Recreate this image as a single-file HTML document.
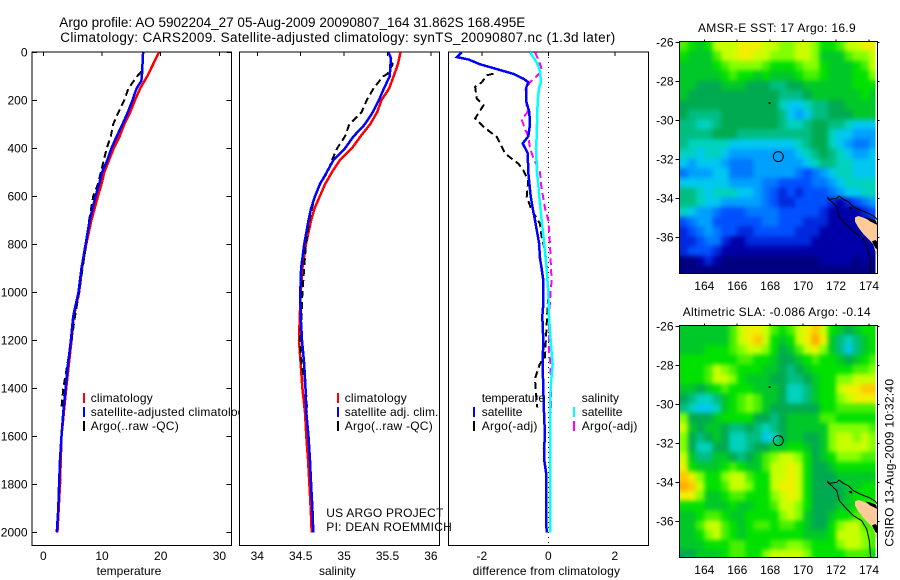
<!DOCTYPE html>
<html lang="en">
<head>
<meta charset="utf-8">
<title>Argo profile 5902204_27</title>
<style>
html,body{margin:0;padding:0;background:#fff;}
svg{display:block;}
text{font-family:"Liberation Sans",sans-serif;font-size:12px;fill:#000;}
</style>
</head>
<body>
<svg id="chart" width="900" height="580" viewBox="0 0 900 580" xmlns="http://www.w3.org/2000/svg">
  <text x="59.3" y="27" style="font-size:13.5px" textLength="466" lengthAdjust="spacing">Argo profile: AO 5902204_27 05-Aug-2009 20090807_164 31.862S 168.495E</text>
  <text x="60.3" y="42" style="font-size:13.5px" textLength="555" lengthAdjust="spacing">Climatology: CARS2009. Satellite-adjusted climatology: synTS_20090807.nc (1.3d later)</text>

  <g id="panel-temp">
    <rect x="32" y="52" width="199.5" height="493.5" fill="#fff" stroke="#000" shape-rendering="crispEdges"/>
    <g id="marks-temp"></g>
    <g>
      <rect x="83" y="393" width="2" height="10" fill="#f00"/>
      <rect x="83" y="407" width="2" height="10" fill="#00f"/>
      <rect x="83" y="421" width="2" height="10" fill="#000"/>
      <text x="90.7" y="402" textLength="62">climatology</text>
      <text x="90.7" y="416" textLength="160">satellite-adjusted climatology</text>
      <text x="90.7" y="430" textLength="88">Argo(..raw -QC)</text>
    </g>
    <text x="129" y="575" text-anchor="middle">temperature</text>
  </g>

  <g id="panel-sal">
    <rect x="239.3" y="52" width="200.4" height="493.5" fill="#fff" stroke="#000" shape-rendering="crispEdges"/>
    <g id="marks-sal"></g>
    <g>
      <rect x="337" y="393" width="2" height="10" fill="#f00"/>
      <rect x="337" y="407" width="2" height="10" fill="#00f"/>
      <rect x="337" y="421" width="2" height="10" fill="#000"/>
      <text x="344.7" y="402" textLength="62">climatology</text>
      <text x="344.7" y="416" textLength="93.7">satellite adj. clim.</text>
      <text x="344.7" y="430" textLength="88">Argo(..raw -QC)</text>
    </g>
    <text x="337.3" y="575" text-anchor="middle">salinity</text>
  </g>

  <g id="panel-diff">
    <rect x="448.3" y="52" width="200" height="493.5" fill="#fff" stroke="#000" shape-rendering="crispEdges"/>
    <g id="marks-diff"></g>
    <g>
      <text x="481.7" y="402" textLength="63.3">temperature</text>
      <rect x="473" y="407" width="2" height="10" fill="#00f"/>
      <rect x="473" y="421" width="2" height="10" fill="#000"/>
      <text x="481.7" y="416" textLength="40.7">satellite</text>
      <text x="481.7" y="430" textLength="55.7">Argo(-adj)</text>
      <text x="581.7" y="402" textLength="37.3">salinity</text>
      <rect x="573" y="407" width="2" height="10" fill="#0ff"/>
      <rect x="573" y="421" width="2" height="10" fill="#f0f"/>
      <text x="581.7" y="416" textLength="40.7">satellite</text>
      <text x="581.7" y="430" textLength="55.7">Argo(-adj)</text>
    </g>
    <text x="546.3" y="575" text-anchor="middle" textLength="147.3">difference from climatology</text>
  </g>

  <text x="326.3" y="517" textLength="117">US ARGO PROJECT</text>
  <text x="326.3" y="531" textLength="125.5">PI: DEAN ROEMMICH</text>

  <g id="map-sst"></g>
  <text x="776.8" y="32" text-anchor="middle" textLength="157.7">AMSR-E SST: 17 Argo: 16.9</text>

  <g id="map-sla"></g>
  <text x="776.7" y="316" text-anchor="middle" textLength="188">Altimetric SLA: -0.086 Argo: -0.14</text>

  <text transform="translate(893.5,462.8) rotate(-90)" text-anchor="middle" textLength="167.7">CSIRO 13-Aug-2009 10:32:40</text>
</svg>

<script>
/* ---------- profile data ---------- */
const tempTicks = [0, 10, 20, 30];
const salTicks = [34, 34.5, 35, 35.5, 36];
const salTickLabels = ['34', '34.5', '35', '35.5', '36'];
const diffTicks = [-2, 0, 2];
const depthTicks = [0, 200, 400, 600, 800, 1000, 1200, 1400, 1600, 1800, 2000];

const tempClimDepth = [0, 50, 100, 150, 200, 250, 300, 350, 400, 450, 500, 550, 600, 700, 800, 900, 1000, 1100, 1200, 1400, 1600, 1800, 2000];
const tempClim = [19.7, 18.7, 17.7, 16.5, 15.6, 14.8, 13.8, 13, 12, 11.2, 10.4, 9.9, 9.3, 8.2, 7.3, 6.6, 6.1, 5.2, 4.8, 3.9, 3.1, 2.85, 2.4];
const tempArgoDepth = [80, 100, 150, 200, 250, 300, 350, 400, 450, 500, 550, 600, 700, 800, 900, 1000, 1100, 1200, 1300, 1400, 1480];
const tempArgo = [16.7, 16, 14.5, 13.8, 12.8, 11.9, 11.5, 10.8, 10.3, 9.8, 9.3, 8.5, 7.8, 7.3, 6.7, 6.1, 5.4, 4.8, 4.1, 3.4, 3.1];
const tempSatDepth = [0, 50, 100, 120, 150, 200, 250, 300, 350, 400, 450, 500, 550, 600, 700, 800, 900, 1000, 1100, 1200, 1300, 1400, 1500, 1600, 1700, 1800, 1900, 2000];
const tempSat = [17, 16.9, 16.8, 16.7, 15.9, 15.2, 14.4, 13.5, 12.5, 11.6, 10.9, 10, 9.5, 8.9, 7.9, 7.2, 6.5, 6, 5.1, 4.7, 4.2, 3.8, 3.4, 3.1, 2.85, 2.7, 2.55, 2.3];

const salClimDepth = [0, 50, 100, 150, 200, 250, 300, 350, 400, 450, 500, 550, 600, 650, 700, 800, 900, 1000, 1100, 1200, 1300, 1400, 1500, 1600, 1700, 1800, 1900, 2000];
const salClim = [35.65, 35.62, 35.57, 35.52, 35.43, 35.38, 35.3, 35.19, 35.09, 34.95, 34.86, 34.78, 34.72, 34.66, 34.62, 34.56, 34.52, 34.5, 34.49, 34.48, 34.5, 34.52, 34.55, 34.565, 34.585, 34.6, 34.615, 34.627];
const salArgoDepth = [0, 50, 90, 100, 150, 200, 250, 300, 350, 400, 450, 500, 550, 600, 650, 700, 800, 900, 1000, 1100, 1200, 1300, 1400, 1500];
const salArgo = [35.51, 35.56, 35.5, 35.45, 35.34, 35.26, 35.2, 35.06, 35.01, 34.92, 34.86, 34.81, 34.72, 34.665, 34.63, 34.6, 34.56, 34.54, 34.52, 34.51, 34.49, 34.51, 34.56, 34.575];
const salSatDepth = [0, 25, 50, 100, 150, 200, 250, 300, 350, 400, 450, 500, 550, 600, 650, 700, 800, 900, 1000, 1100, 1200, 1300, 1400, 1500, 1600, 1700, 1800, 1900, 2000];
const salSat = [35.51, 35.54, 35.535, 35.525, 35.46, 35.4, 35.33, 35.24, 35.11, 35.01, 34.875, 34.8, 34.72, 34.665, 34.62, 34.59, 34.54, 34.505, 34.495, 34.5, 34.515, 34.54, 34.555, 34.565, 34.59, 34.607, 34.62, 34.635, 34.645];

const diffTempArgoDepth = [89, 96, 125, 144, 193, 221, 276, 311, 353, 380, 422, 464, 492, 533, 603, 658, 714, 769, 825, 880, 1000, 1270, 1297, 1360, 1410, 1480];
const diffTempArgo = [-1.65, -1.85, -2, -2.2, -2.15, -1.95, -2.2, -1.95, -1.55, -1.45, -1.3, -0.9, -0.75, -0.6, -0.65, -0.5, -0.25, -0.2, -0.1, -0.05, 0, -0.1, -0.25, -0.4, -0.38, -0.33];
const diffSalArgoDepth = [0, 30, 60, 80, 125, 150, 200, 250, 280, 320, 350, 400, 450, 500, 550, 650, 700, 800, 900, 950, 1000, 1100, 1250, 1300, 1400, 1500];
const diffSalArgo = [-0.4, -0.3, -0.22, -0.2, -0.55, -0.68, -0.67, -0.63, -0.8, -0.7, -0.6, -0.55, -0.42, -0.25, -0.22, -0.1, 0, 0.05, 0.08, 0.1, 0.07, 0.02, 0.02, 0.07, 0.08, 0.08];
const diffTempSatDepth = [0, 20, 30, 50, 70, 90, 110, 125, 150, 200, 250, 300, 350, 380, 420, 500, 600, 650, 700, 800, 850, 900, 950, 1000, 1050, 1100, 1200, 1300, 1400, 1500, 1600, 1650, 1700, 1750, 1900, 2000];
const diffTempSat = [-2.6, -2.75, -2.4, -2.05, -1.55, -1.05, -0.75, -0.6, -0.67, -0.67, -0.57, -0.55, -0.6, -0.77, -0.62, -0.6, -0.53, -0.47, -0.4, -0.27, -0.26, -0.2, -0.15, -0.15, -0.15, -0.18, -0.15, -0.17, -0.15, -0.13, -0.1, -0.13, -0.12, -0.07, -0.07, -0.05];
const diffSalSatDepth = [0, 20, 50, 80, 125, 150, 200, 300, 350, 400, 500, 550, 600, 700, 800, 900, 1000, 1100, 1200, 1250, 1300, 1400, 1500, 1600, 2000];
const diffSalSat = [-0.55, -0.45, -0.32, -0.25, -0.22, -0.28, -0.32, -0.34, -0.35, -0.37, -0.34, -0.3, -0.27, -0.2, -0.12, -0.05, 0, 0.02, 0.07, 0.1, 0.13, 0.07, 0.05, 0.05, 0.05];

/* ---------- map data: colour levels, 0.5 degree cells, north to south ---------- */
const lonTicks = [164, 166, 168, 170, 172, 174];
const latTicks = [-26, -28, -30, -32, -34, -36];
const sstLevels = [
[12,11,10,11,14,14,14,15,15,15,14,14,13,13,14,14,13,11,11,12,14,14,15,15],
[11,10,10,10,12,14,14,15,15,14,14,13,13,13,14,14,13,10,10,10,12,13,13,14],
[10,10,10,10,11,12,13,13,13,13,12,11,11,11,12,13,13,11,10,10,10,11,12,14],
[10,10,10,10,10,11,12,11,11,10,11,10,10,10,11,12,12,11,10,10,10,11,11,13],
[10,10,9,9,9,10,10,10,9,9,9,8,8,9,9,10,10,10,10,10,10,11,11,11],
[10,9,9,9,9,9,9,9,9,9,9,9,8,8,8,9,10,10,10,10,10,10,11,10],
[9,9,9,9,9,9,9,9,9,9,9,9,7,6,6,7,8,8,9,9,10,10,10,10],
[9,8,8,8,8,9,9,9,9,9,9,9,8,6,5,6,8,8,9,9,9,10,10,10],
[8,8,7,7,8,9,9,9,9,9,9,9,8,7,7,8,9,9,8,8,7,6,6,6],
[8,8,8,8,9,9,9,8,8,8,8,8,8,8,8,8,9,9,7,6,6,5,5,5],
[8,7,7,7,7,7,6,6,6,6,6,6,6,6,7,8,9,9,7,6,5,4,4,5],
[7,7,6,7,7,6,5,5,5,5,5,5,5,5,6,7,8,9,8,7,6,5,5,6],
[6,5,6,6,6,5,4,4,4,5,5,5,5,5,5,6,7,8,8,7,7,6,6,6],
[4,5,5,5,6,6,4,4,4,5,5,5,5,5,4,3,4,5,6,7,7,6,6,6],
[6,6,6,6,6,6,5,5,5,5,4,4,3,3,3,3,4,4,5,6,7,7,7,7],
[8,8,7,6,7,7,7,6,6,5,4,3,2,3,2,3,3,3,4,5,6,6,7,7],
[8,8,7,6,6,5,5,5,5,5,4,3,2,2,3,3,3,3,2,1,2,3,4,5],
[7,6,5,5,4,3,3,3,4,4,4,4,3,3,3,3,3,2,1,1,1,1,2,3],
[3,4,5,5,3,3,3,3,3,3,4,4,3,3,3,2,2,2,1,1,1,1,1,2],
[2,3,4,5,4,3,3,2,2,3,3,3,3,3,2,2,2,1,1,1,1,1,1,2],
[2,2,3,4,4,2,1,1,2,2,2,2,2,2,2,2,1,1,1,1,1,1,1,1],
[2,3,3,3,2,1,1,1,1,1,1,1,1,1,1,1,1,1,1,1,1,1,1,1],
[0,0,1,2,1,0,0,0,0,0,0,0,0,0,0,0,0,1,1,1,1,0,1,0],
[0,0,0,0,0,0,0,0,0,0,0,0,0,0,0,0,0,0,0,0,0,0,0,0]
];
const slaLevels = [
[10,10,10,10,10,10,12,14,15,15,14,12,11,12,14,15,16,14,11,10,9,10,11,11],
[10,10,10,10,10,10,12,14,15,16,14,11,10,11,14,15,17,15,10,8,7,8,10,11],
[10,10,10,11,11,11,12,13,14,14,13,11,9,10,12,14,15,13,10,8,6,8,10,11],
[11,11,11,11,11,11,11,12,12,11,11,10,9,9,10,11,12,11,11,10,9,10,11,12],
[11,11,11,12,14,13,12,11,11,11,10,10,9,8,9,10,11,11,11,11,11,12,12,13],
[11,11,11,12,14,14,13,11,10,10,10,9,9,8,8,9,10,11,11,13,13,14,14,14],
[10,10,9,10,11,12,11,11,11,10,10,10,9,7,7,8,10,11,11,14,15,15,16,16],
[9,8,7,7,8,10,11,12,13,12,10,10,9,7,7,8,10,11,11,13,14,15,15,15],
[8,7,6,6,7,10,11,12,13,12,10,9,9,9,9,9,9,11,11,12,12,12,12,12],
[13,9,9,9,10,11,11,11,11,9,9,8,9,10,10,10,10,12,12,11,11,11,11,11],
[14,10,9,10,10,9,8,8,9,8,7,8,9,10,10,10,10,10,13,13,13,13,13,12],
[13,9,8,9,10,9,7,7,8,8,6,7,9,10,10,9,9,10,13,14,14,13,14,13],
[13,9,7,7,9,9,7,7,8,9,9,10,10,11,11,10,9,10,13,14,14,14,14,13],
[14,10,8,8,10,10,9,8,9,10,12,13,14,14,13,11,9,10,11,13,13,13,12,12],
[15,11,10,10,10,11,12,11,10,10,12,14,14,15,14,11,9,9,10,11,11,11,11,11],
[16,15,13,11,11,13,14,14,12,11,11,14,14,15,14,11,9,9,9,10,10,10,10,10],
[17,16,14,11,11,12,14,14,13,11,11,14,15,15,14,11,9,9,9,9,10,10,11,11],
[15,15,13,10,10,11,12,12,11,11,11,13,14,15,14,11,9,9,9,9,10,11,11,11],
[11,11,11,10,10,10,11,10,10,11,11,12,14,14,13,11,9,9,9,10,10,11,12,12],
[10,10,11,12,12,11,10,10,11,11,11,11,13,14,13,10,9,9,10,11,11,12,12,12],
[10,10,12,14,14,12,11,10,11,12,12,11,12,12,11,10,9,9,11,13,14,14,12,12],
[10,10,11,13,14,12,11,10,11,11,11,11,11,11,11,10,10,10,11,14,14,14,13,12],
[10,10,10,11,11,11,12,12,11,11,11,12,12,13,13,12,11,11,11,13,14,14,13,12],
[9,9,10,10,10,11,12,12,11,11,13,14,14,14,14,13,11,11,11,11,12,12,12,11]
];
const floatLon = 168.495;
const floatLat = -31.862;

/* ---------- scales and helpers ---------- */
const levelColors = ['#000080','#0000a8','#0028dc','#0050ff','#0078ff','#00a0ff','#00c8f0','#00d2be','#00be82','#00aa50','#00c828','#00e100','#46f000','#82ff00','#c8ff00','#f0f000','#ffc800','#ffaa00'];
const NS = 'http://www.w3.org/2000/svg';
const yDepth = d => 52.3 + 0.24 * d;
const xTemp = v => 43.3 + 5.87 * v;
const xSal = v => 257.3 + 86.8 * (v - 34);
const xDiff = v => 548.3 + 33.25 * v;
const xLon = l => 704.3 + 16.47 * (l - 164);
const yLatSst = l => 42.3 + 19.5 * (-26 - l);
const yLatSla = l => 326.3 + 19.5 * (-26 - l);

function mk(parent, tag, attrs, text) {
  const el = document.createElementNS(NS, tag);
  for (const k in attrs) el.setAttribute(k, attrs[k]);
  if (text !== undefined) el.textContent = text;
  parent.appendChild(el);
  return el;
}

function curve(parent, name, xFn, depths, values, color, dash) {
  const pts = depths.map((d, i) => xFn(values[i]).toFixed(1) + ',' + yDepth(d).toFixed(1)).join(' ');
  const attrs = { points: pts, fill: 'none', stroke: color, 'stroke-width': dash ? 2 : 2.5, 'shape-rendering': 'crispEdges' };
  if (dash) attrs['stroke-dasharray'] = dash;
  const el = mk(parent, 'polyline', attrs);
  
  
}

function tickLine(parent, name, x1, y1, x2, y2) {
  const el = mk(parent, 'line', { x1: x1, y1: y1, x2: x2, y2: y2, stroke: '#000', 'shape-rendering': 'crispEdges' });
  
  
}

function tickText(parent, name, x, y, anchor, str) {
  const el = mk(parent, 'text', { x: x, y: y, 'text-anchor': anchor }, str);
  
  
}

/* ---------- temperature panel ---------- */
const gT = document.getElementById('marks-temp');
curve(gT, 'temperature-climatology-line', xTemp, tempClimDepth, tempClim, '#f00');
curve(gT, 'temperature-argo-line', xTemp, tempArgoDepth, tempArgo, '#000', '7 4');
curve(gT, 'temperature-satellite-line', xTemp, tempSatDepth, tempSat, '#00f');
tempTicks.forEach(v => {
  tickLine(gT, 'temperature-top-tick', xTemp(v), 52, xTemp(v), 56);
  tickText(gT, 'temperature-tick-label', xTemp(v), 560, 'middle', String(v));
});
depthTicks.forEach(d => {
  tickLine(gT, 'depth-left-tick', 32, yDepth(d), 37, yDepth(d));
  tickLine(gT, 'depth-right-tick', 226.5, yDepth(d), 231.5, yDepth(d));
  tickText(gT, 'depth-tick-label', 27.5, yDepth(d) + 4.3, 'end', String(d));
});

/* ---------- salinity panel ---------- */
const gS = document.getElementById('marks-sal');
curve(gS, 'salinity-climatology-line', xSal, salClimDepth, salClim, '#f00');
curve(gS, 'salinity-argo-line', xSal, salArgoDepth, salArgo, '#000', '7 4');
curve(gS, 'salinity-satellite-line', xSal, salSatDepth, salSat, '#00f');
salTicks.forEach((v, i) => {
  tickLine(gS, 'salinity-top-tick', xSal(v), 52, xSal(v), 56);
  tickText(gS, 'salinity-tick-label', xSal(v), 560, 'middle', salTickLabels[i]);
});

/* ---------- difference panel ---------- */
const gD = document.getElementById('marks-diff');
const zeroLine = mk(gD, 'line', { x1: xDiff(0), y1: 52, x2: xDiff(0), y2: 545, stroke: '#000', 'stroke-dasharray': '1 4', 'shape-rendering': 'crispEdges' });


curve(gD, 'difference-temp-argo-line', xDiff, diffTempArgoDepth, diffTempArgo, '#000', '7 4');
curve(gD, 'difference-sal-argo-line', xDiff, diffSalArgoDepth, diffSalArgo, '#f0f', '7 4');
curve(gD, 'difference-temp-satellite-line', xDiff, diffTempSatDepth, diffTempSat, '#00f');
curve(gD, 'difference-sal-satellite-line', xDiff, diffSalSatDepth, diffSalSat, '#0ff');
diffTicks.forEach(v => {
  tickLine(gD, 'difference-top-tick', xDiff(v), 52, xDiff(v), 56);
  tickText(gD, 'difference-tick-label', xDiff(v), 560, 'middle', String(v));
});

/* ---------- maps ---------- */
const LEFT = 679.3, MAP_RIGHT = 875.5, FRAME_RIGHT = 877.3;
const BLEED = 14;
function drawMap(gId, levels, yLat, top, bottom, labelY, prefix) {
  const g = document.getElementById(gId);
  const clipId = gId + '-clip';
  const blurId = gId + '-blur';
  const defs = mk(g, 'defs', {});
  const cp = mk(defs, 'clipPath', { id: clipId });
  mk(cp, 'rect', { x: LEFT, y: top, width: MAP_RIGHT - LEFT, height: bottom - top });
  const fl = mk(defs, 'filter', { id: blurId, x: '-10%', y: '-10%', width: '120%', height: '120%', 'color-interpolation-filters': 'sRGB' });
  mk(fl, 'feGaussianBlur', { stdDeviation: 2.5 });
  const clipper = mk(g, 'g', { 'clip-path': 'url(#' + clipId + ')' });
  const cells = mk(clipper, 'g', { filter: 'url(#' + blurId + ')', 'shape-rendering': 'crispEdges' });
  
  
  const nRows = levels.length;
  levels.forEach((row, r) => {
    row.forEach((lvl, c) => {
      const lon = 162.5 + 0.5 * c;
      const lat = -25.95 - 0.5 * r;
      let x = xLon(lon), y = yLat(lat);
      let w = 0.5 * 16.47 + 0.6, h = 0.5 * 19.5 + 0.6;
      if (c === 0) { x -= BLEED; w += BLEED; }
      if (c === row.length - 1) { w += BLEED; }
      if (r === 0) { y -= BLEED; h += BLEED; }
      if (r === nRows - 1) { h += BLEED; }
      const cell = mk(cells, 'rect', {
        x: x.toFixed(2), y: y.toFixed(2),
        width: w.toFixed(2), height: h.toFixed(2),
        fill: levelColors[Math.max(0, Math.min(levelColors.length - 1, Math.round(lvl)))]
      });
      
      
    });
  });

  /* coastline, drawn in reference-scaled units */
  const off = yLat(-26) - 42.3;
  const coast = mk(g, 'g', { transform: 'translate(640,' + (10 + off) + ') scale(0.33333)' });
  
  
  mk(coast, 'path', { d: 'M645 622 L655 618 L670 623 L690 632 L712 640 L712 738 L706 725 L700 703 L690 692 L670 672 L655 652 L645 635 Z', fill: '#ffcc99' });
  mk(coast, 'path', { d: 'M625 592 L634 590 L638 598 L632 598 Z M676 622 L692 626 L708 632 L712 645 L704 641 L690 634 Z M696 694 L706 690 L712 696 L712 718 L706 714 Z', fill: '#000' });
  mk(coast, 'path', { d: 'M562 560 L568 568 L590 565 L597 558 L610 568 L625 575 L640 590 L660 600 L690 612 L706 622 L712 630', fill: 'none', stroke: '#000', 'stroke-width': 3 });
  mk(coast, 'path', { d: 'M562 565 L575 575 L590 590 L598 620 L620 645 L640 665 L665 680 L680 705 L688 740 L692 790', fill: 'none', stroke: '#000', 'stroke-width': 3 });

  const frame = mk(g, 'rect', { x: LEFT, y: top, width: FRAME_RIGHT - LEFT, height: bottom - top, fill: 'none', stroke: '#000', 'shape-rendering': 'crispEdges' });
  
  

  const dot = mk(g, 'rect', { x: 768.6, y: yLat(-26) + 60, width: 2, height: 1.6, fill: '#000' });
  
  

  const marker = mk(g, 'circle', { cx: xLon(floatLon).toFixed(1), cy: yLat(floatLat).toFixed(1), r: 5, fill: 'none', stroke: '#000' });
  
  

  lonTicks.forEach(l => {
    tickLine(g, prefix + '-lon-tick', xLon(l), top, xLon(l), top - 2);
    tickText(g, prefix + '-lon-label', xLon(l), labelY, 'middle', String(l));
  });
  latTicks.forEach(l => {
    tickLine(g, prefix + '-lat-left-tick', LEFT, yLat(l), LEFT - 4, yLat(l));
    tickLine(g, prefix + '-lat-right-tick', FRAME_RIGHT, yLat(l), FRAME_RIGHT + 2, yLat(l));
    tickText(g, prefix + '-lat-label', 673.5, yLat(l) + 4.3, 'end', String(l));
  });
}
drawMap('map-sst', sstLevels, yLatSst, 41.3, 273.3, 290, 'sst');
drawMap('map-sla', slaLevels, yLatSla, 325.3, 557.3, 574, 'sla');
</script>
</body>
</html>
